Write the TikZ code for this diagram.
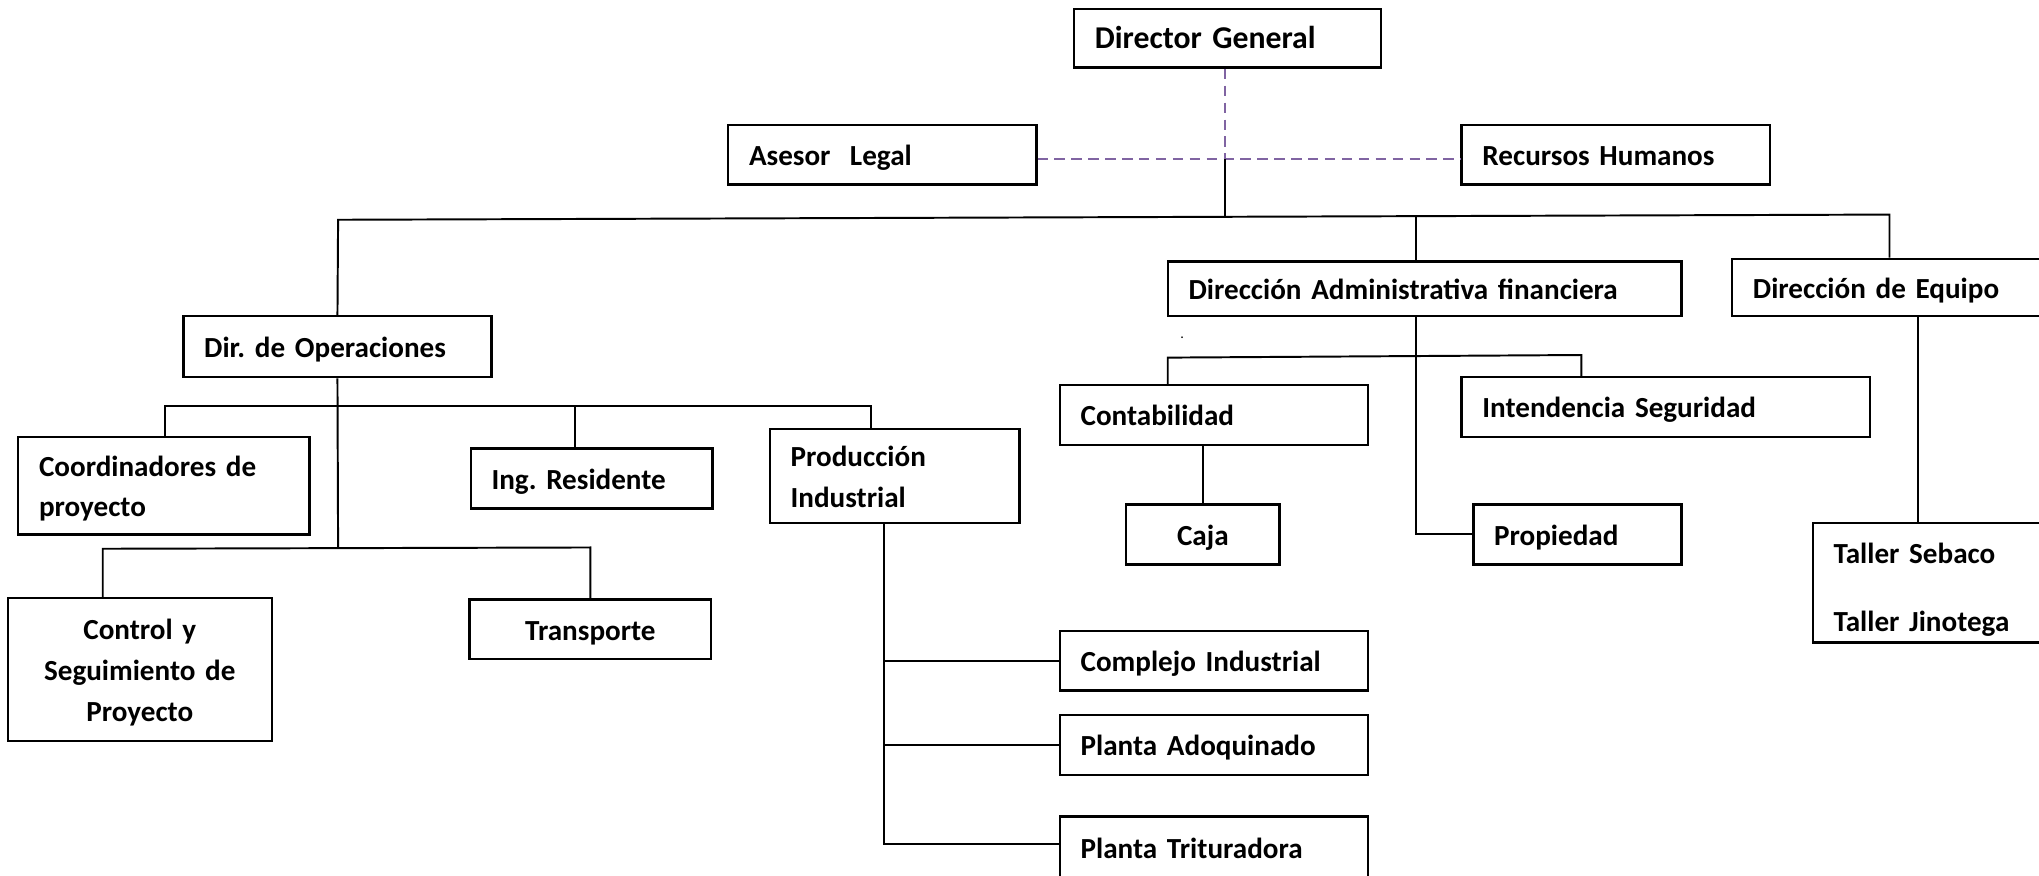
\documentclass[tikz,border=0pt]{standalone}
\usepackage{fontspec}
\setmainfont{Carlito}
\begin{document}
\begin{tikzpicture}[x=1pt,y=-1pt,
  box/.style={draw, line width=1.8pt, inner xsep=16pt, inner ysep=0pt,
    font=\fontsize{22.4}{31.5}\selectfont\bfseries\frenchspacing},
  bigbox/.style={font=\fontsize{24.4}{31.5}\selectfont\bfseries\frenchspacing},
  conn/.style={line width=1.5pt},
  staff/.style={draw=dashpurple, line width=1.7pt, dash pattern=on 8pt off 5pt}
]
\definecolor{dashpurple}{RGB}{128,100,162}
\useasboundingbox (0,0) rectangle (1568,673);
\clip (0,0) rectangle (1568,673);
% #1 name, #2 x1, #3 y1, #4 x2, #5 y2, #6 align, #7 extra depth, #8 text, #9 extra style
\newcommand{\obox}[9]{%
  \pgfmathsetmacro\bw{#4-#2}%
  \pgfmathsetmacro\bh{#5-#3}%
  \pgfmathsetmacro\tw{#4-#2-32}%
  \pgfmathsetmacro\cx{(#2+#4)/2}%
  \pgfmathsetmacro\cy{(#3+#5)/2}%
  \pgfmathsetmacro\td{2.9+#7}%
  \node[box, #9, minimum width=\bw pt, minimum height=\bh pt, text width=\tw pt,
    text height=19.5pt, text depth=\td pt, align=#6] (#1) at (\cx,\cy) {#8};}
% boxes
\obox{dg}{826}{7}{1062}{52}{left}{0.3}{Director General}{bigbox, text height=21.2pt}
\obox{al}{560}{96}{797}{142}{left}{0}{Asesor\ \ Legal}{}
\obox{rh}{1124}{96}{1361}{142}{left}{0}{Recursos Humanos}{}
\obox{dop}{141}{243}{378}{290}{left}{0}{Dir. de Operaciones}{}
\obox{daf}{898}{201}{1293}{243}{left}{0}{Dirección Administrativa financiera}{}
\obox{de}{1332}{199}{1580}{243}{left}{0}{Dirección de Equipo}{}
\obox{co}{14}{336}{238}{411}{left}{31.5}{Coordinadores de\\proyecto}{}
\obox{ir}{362}{345}{548}{391}{left}{0}{Ing. Residente}{}
\obox{pi}{592}{330}{784}{402}{left}{31.5}{Producción\\Industrial}{}
\obox{cs}{6}{460}{209}{570}{center}{63}{Control y\\Seguimiento de\\Proyecto}{}
\obox{tr}{361}{461}{547}{507}{center}{0}{Transporte}{}
\obox{ci}{815}{485}{1052}{531}{left}{0}{Complejo Industrial}{}
\obox{pa}{815}{550}{1052}{596}{left}{0}{Planta Adoquinado}{}
\obox{pt}{815}{628}{1052}{676}{left}{0}{Planta Trituradora}{}
\obox{cont}{815}{296}{1052}{342}{left}{0}{Contabilidad}{}
\obox{int}{1124}{290}{1438}{336}{left}{0}{Intendencia Seguridad}{}
\obox{caja}{866}{388}{984}{434}{center}{0}{Caja}{}
\obox{prop}{1133}{388}{1293}{434}{left}{0}{Propiedad}{}
\obox{ta}{1394}{402}{1580}{494}{left}{46}{Taller Sebaco\\[20.5pt]Taller Jinotega}{}
\node[font=\fontsize{11}{11}\selectfont, inner sep=0pt] (dot) at (909,260) {.};
% junction coordinates
\coordinate (jd) at (942,122);
\coordinate (bl) at (260,169);
\coordinate (br) at (1453,165);
\coordinate (bt) at (942,167);
\coordinate (bd) at (1089,166);
\coordinate (ol) at (127,312);
\coordinate (or) at (670,312);
\coordinate (oi) at (442,312);
\coordinate (lt) at (260,421.5);
\coordinate (ll) at (79,422);
\coordinate (lr) at (454,421);
\coordinate (pv) at (680,649);
\coordinate (sl) at (898,275);
\coordinate (sr) at (1216,273);
\coordinate (dv) at (1089,411);
\coordinate (ev) at (1475,243);
% dashed staff links
\draw[staff] (dg.south -| jd) -- (jd);
\draw[staff] (al.east |- jd) -- (rh.west |- jd);
% main bar
\draw[conn] (jd) -- (bt);
\draw[conn] (dop.north) -- (bl) -- (br) -- (br |- de.north);
\draw[conn] (bd) -- (bd |- daf.north);
% operaciones
\draw[conn] (dop.south) -- (lt);
\draw[conn] (co.north -| ol) -- (ol) -- (or) -- (or |- pi.north);
\draw[conn] (oi) -- (oi |- ir.north);
\draw[conn] (cs.north -| ll) -- (ll) -- (lr) -- (lr |- tr.north);
% produccion
\draw[conn] (pi.south -| pv) -- (pv) -- (pt.west |- pv);
\draw[conn] (pv |- ci.west) -- (ci.west);
\draw[conn] (pv |- pa.west) -- (pa.west);
% administrativa
\draw[conn] (daf.south -| dv) -- (dv) -- (prop.west);
\draw[conn] (cont.north -| sl) -- (sl) -- (sr) -- (sr |- int.north);
\draw[conn] (caja.north |- cont.south) -- (caja.north);
% equipo
\draw[conn] (de.south -| ev) -- (ev |- ta.north);
\end{tikzpicture}
\end{document}
